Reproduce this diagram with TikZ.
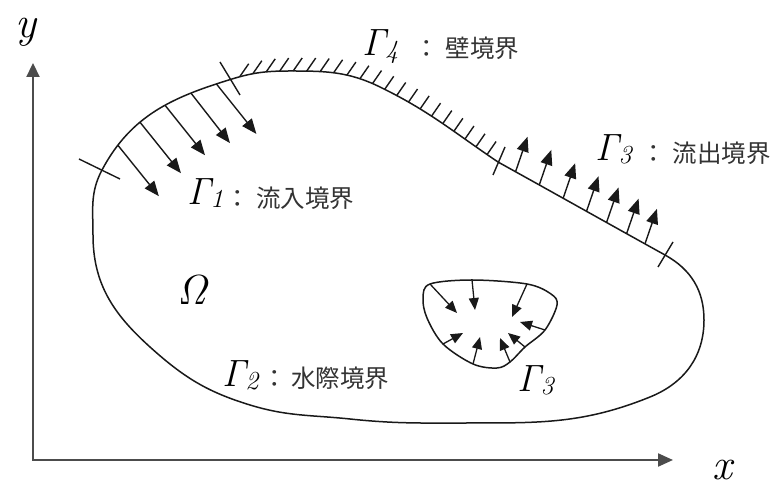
\documentclass[tikz,border=0pt]{standalone}
\usepackage{fontspec}
\newfontfamily\jpfont{Noto Sans CJK JP}
\usetikzlibrary{arrows.meta,decorations.markings}
\newcommand{\gsub}[2]{\itshape #1\raisebox{-3pt}{\fontsize{26}{28}\selectfont #2}}
\begin{document}
\begin{tikzpicture}[x=1pt,y=1pt,
  bnd/.style={line width=1.5pt, black!90},
  ax/.style={line width=2.2pt, black!70, line join=miter,
    {Triangle[length=14pt,width=13pt]}-{Triangle[length=15pt,width=13pt]}},
  inarrow/.style={line width=1.4pt, black!90, -{Triangle[length=15pt,width=12pt]}},
  holearrow/.style={line width=1.3pt, black!90, -{Triangle[length=12pt,width=10pt]}},
  hatchline/.style={line width=1.4pt, black!90},
  tickline/.style={line width=1.4pt, black!90},
  greek/.style={font=\fontsize{38}{40}\selectfont, inner sep=0pt, anchor=base west},
  bigomega/.style={font=\fontsize{42}{44}\selectfont\itshape, inner sep=0pt, anchor=base west},
  jp/.style={font=\jpfont\fontsize{24.5}{26}\selectfont, inner sep=0pt, anchor=base west, text=black!80},
  axlab/.style={font=\fontsize{44}{46}\selectfont\itshape, inner sep=0pt, anchor=base},
]
\useasboundingbox (0,0) rectangle (776,484);

% axes
\coordinate (O) at (33,24);
\coordinate (Ytip) at (33,421);
\coordinate (Xtip) at (673,24);
\draw[ax] (Ytip) -- (O) -- (Xtip);
\node[axlab] (ylab) at (26,446) {y};
\node[axlab] (xlab) at (722,4) {x};

% outer boundary points
\coordinate (A) at (102,314);
\coordinate (B) at (232,405);
\coordinate (T) at (290,413);
\coordinate (W) at (380,397);
\coordinate (C) at (498,322);
\coordinate (D) at (665,229);
\coordinate (E) at (704,164);
\coordinate (F) at (650,87);
\coordinate (G) at (470,61);
\coordinate (K) at (350,65);
\coordinate (H) at (250,79);
\coordinate (I) at (150,137);
\coordinate (J) at (93,249);

% Gamma1 inflow
\draw[bnd, postaction={decorate, decoration={markings,
   mark=at position 0.18 with {\pgftransformresetnontranslations \draw[inarrow] (0,0) -- (41,-51);},
   mark=at position 0.375 with {\pgftransformresetnontranslations \draw[inarrow] (0,0) -- (41,-51);},
   mark=at position 0.56 with {\pgftransformresetnontranslations \draw[inarrow] (0,0) -- (40,-50);},
   mark=at position 0.735 with {\pgftransformresetnontranslations \draw[inarrow] (0,0) -- (39,-50);},
   mark=at position 0.9 with {\pgftransformresetnontranslations \draw[inarrow] (0,0) -- (40,-50);}
 }}]
  (A) to[out=62,in=197] (B);

% Gamma4 wall
\draw[bnd, postaction={decorate, decoration={markings,
   mark=between positions 8pt and -4pt step 13.5pt with {\pgftransformresetnontranslations \draw[hatchline] (0,0) -- (9,13);}
 }}]
  (B) to[out=17,in=180] (T) to[out=0,in=154] (W) to[out=-26,in=146] (C);

% Gamma3 outflow
\draw[bnd, postaction={decorate, decoration={markings,
   mark=at position 0.105 with {\pgftransformresetnontranslations \draw[inarrow] (0,0) -- (12,35);},
   mark=at position 0.247 with {\pgftransformresetnontranslations \draw[inarrow] (0,0) -- (12,35);},
   mark=at position 0.39 with {\pgftransformresetnontranslations \draw[inarrow] (0,0) -- (12,35);},
   mark=at position 0.53 with {\pgftransformresetnontranslations \draw[inarrow] (0,0) -- (12,35);},
   mark=at position 0.65 with {\pgftransformresetnontranslations \draw[inarrow] (0,0) -- (12,35);},
   mark=at position 0.77 with {\pgftransformresetnontranslations \draw[inarrow] (0,0) -- (12,35);},
   mark=at position 0.88 with {\pgftransformresetnontranslations \draw[inarrow] (0,0) -- (12,35);}
 }}]
  (C) to[out=-29,in=151] (D);

% Gamma2 rest of the boundary
\draw[bnd] (D) to[out=-29,in=90] (E) to[out=-90,in=22] (F) to[out=202,in=0] (G)
  to[out=180,in=-6] (K) to[out=174,in=-17] (H) to[out=163,in=-42] (I)
  to[out=138,in=-90] (J) to[out=90,in=242] (A);

% ticks
\draw[tickline] ([shift={(-23,11)}]A) -- ([shift={(18,-9)}]A);
\draw[tickline] ([shift={(-12,17)}]B) -- ([shift={(8,-16)}]B);
\draw[tickline] ([shift={(-5,-13)}]C) -- ([shift={(7,15)}]C);
\draw[tickline] ([shift={(-7,-12)}]D) -- ([shift={(8,13)}]D);

% hole
\coordinate (h1) at (430,200);
\coordinate (h2) at (472,204);
\coordinate (h3) at (527,200);
\coordinate (h4) at (551,190);
\coordinate (h5) at (557,179);
\coordinate (h6) at (545,154);
\coordinate (h7) at (525,137);
\coordinate (h8) at (510,122);
\coordinate (h9) at (497,116);
\coordinate (h10) at (473,120);
\coordinate (h11) at (443,140);
\coordinate (h12) at (427,166);
\coordinate (h13) at (423,186);
\draw[bnd] plot[smooth cycle, tension=0.55] coordinates {(h1) (h2) (h3) (h4) (h5) (h6) (h7) (h8) (h9) (h10) (h11) (h12) (h13)};

\coordinate (t1) at (457,171);
\coordinate (t2) at (475,174);
\coordinate (t3) at (512,167);
\coordinate (t4) at (520,162);
\coordinate (t5) at (508,151);
\coordinate (t6) at (500,146);
\coordinate (t7) at (480,147);
\coordinate (t8) at (463,151);
\draw[holearrow] (h1) -- (t1);
\draw[holearrow] (h2) -- (t2);
\draw[holearrow] (h3) -- (t3);
\draw[holearrow] (h6) -- (t4);
\draw[holearrow] (h7) -- (t5);
\draw[holearrow] (h8) -- (t6);
\draw[holearrow] (h10) -- (t7);
\draw[holearrow] (h11) -- (t8);

% labels
\node[greek] (g1) at (187,279) {\gsub{Γ}{1}};
\node[jp] (j1) at (225.5,276) {：\hspace{6pt}流入境界};
\node[greek] (g4) at (362,428) {\gsub{Γ}{4}};
\node[jp] (j4) at (414,426) {：\hspace{7pt}壁境界};
\node[greek] (g3) at (595,323) {\gsub{Γ}{3}};
\node[jp] (j3) at (641,321) {：\hspace{7pt}流出境界};
\node[greek] (g2) at (222,97) {\gsub{Γ}{2}};
\node[jp] (j2) at (262.5,96) {：\hspace{4pt}水際境界};
\node[greek] (g3b) at (517,92) {\gsub{Γ}{3}};
\node[bigomega] (om) at (177,179) {Ω};
\end{tikzpicture}
\end{document}
